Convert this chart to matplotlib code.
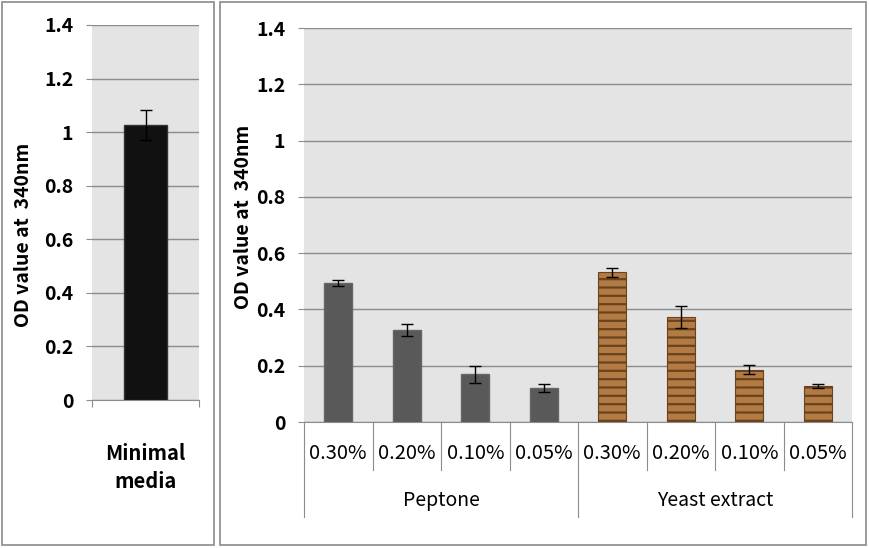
import matplotlib
matplotlib.use('Agg')
from matplotlib import pyplot as plt
from matplotlib.patches import Rectangle

plt.rcParams['font.family'] = ['Noto Sans CJK KR', 'DejaVu Sans']
plt.rcParams['hatch.color'] = '#6a421d'
plt.rcParams['hatch.linewidth'] = 1.6

# data
minimal_label = 'Minimal\nmedia'
minimal_value = 1.028
minimal_err = 0.056

concentrations = ['0.30%', '0.20%', '0.10%', '0.05%']
groups = ['Peptone', 'Yeast extract']
peptone_values = [0.493, 0.327, 0.170, 0.121]
peptone_err = [0.010, 0.023, 0.030, 0.013]
yeast_values = [0.532, 0.373, 0.185, 0.128]
yeast_err = [0.015, 0.040, 0.016, 0.007]

yticks = [0, 0.2, 0.4, 0.6, 0.8, 1, 1.2, 1.4]
ytick_labels = ['0', '0.2', '0.4', '0.6', '0.8', '1', '1.2', '1.4']

BG = '#e4e4e4'
GRID = '#8c8c8c'


def style_axes(ax):
    ax.set_facecolor(BG)
    ax.set_ylim(0, 1.4)
    ax.set_yticks(yticks)
    ax.set_yticklabels(ytick_labels, fontsize=14, fontweight='bold')
    ax.yaxis.grid(True, color=GRID, lw=1)
    ax.set_axisbelow(True)
    for s in ['left', 'right', 'top']:
        ax.spines[s].set_visible(False)
    ax.spines['bottom'].set_color(GRID)
    ax.tick_params(axis='y', length=4.5, color=GRID, pad=9)
    ax.set_ylabel('OD value at  340nm', fontsize=14, fontweight='bold')


fig = plt.figure(figsize=(8.69, 5.48), dpi=100)

# panel frames
fig.patches.append(Rectangle((2 / 869, 3 / 548), 212 / 869, 543 / 548,
                             transform=fig.transFigure, fill=False,
                             edgecolor='#8a8a8a', lw=1.2))
fig.patches.append(Rectangle((220 / 869, 3 / 548), 646 / 869, 543 / 548,
                             transform=fig.transFigure, fill=False,
                             edgecolor='#8a8a8a', lw=1.2))

# left panel
ax1 = fig.add_axes([92 / 869, 148 / 548, 107 / 869, 375 / 548])
style_axes(ax1)
ax1.bar([0.5], [minimal_value], width=0.4, color='#111111',
        edgecolor='#333333', zorder=3)
ax1.errorbar([0.5], [minimal_value], yerr=[minimal_err], fmt='none',
             ecolor='black', elinewidth=1, capsize=4, capthick=1, zorder=4)
ax1.set_xlim(0, 1)
ax1.set_xticks([0, 1])
ax1.set_xticklabels([])
ax1.tick_params(axis='x', length=5, color=GRID)
ax1.text(0.5, -0.18, minimal_label, transform=ax1.transAxes, ha='center',
         va='center', fontsize=14.5, fontweight='bold', linespacing=1.45)
ax1.yaxis.set_label_coords(-0.55, 0.44)

# right panel
ax2 = fig.add_axes([304 / 869, 126 / 548, 548 / 869, 394 / 548])
style_axes(ax2)
n = len(concentrations)
xp = [i + 0.5 for i in range(n)]
xy = [n + i + 0.5 for i in range(n)]
ax2.bar(xp, peptone_values, width=0.41, color='#595959',
        edgecolor='#666666', zorder=3)
ax2.errorbar(xp, peptone_values, yerr=peptone_err, fmt='none',
             ecolor='black', elinewidth=1, capsize=4, capthick=1, zorder=4)
ax2.bar(xy, yeast_values, width=0.41, color='#b27b44',
        edgecolor='#6a421d', hatch='--', lw=0.8, zorder=3)
ax2.errorbar(xy, yeast_values, yerr=yeast_err, fmt='none',
             ecolor='black', elinewidth=1, capsize=4, capthick=1, zorder=4)
ax2.set_xlim(0, 2 * n)
ax2.set_xticks([])
ax2.yaxis.set_label_coords(-0.093, 0.52)

tr = ax2.get_xaxis_transform()
for i in range(2 * n + 1):
    bottom = -0.241 if i % n == 0 else -0.122
    ax2.plot([i, i], [0, bottom], transform=tr, color='#8c8c8c', lw=0.8,
             clip_on=False)
for i in range(2 * n):
    ax2.text(i + 0.5, -0.079, concentrations[i % n], transform=tr,
             ha='center', va='center', fontsize=14.5)
for g, name in enumerate(groups):
    ax2.text(g * n + n / 2, -0.198, name, transform=tr, ha='center',
             va='center', fontsize=14)

fig.savefig('out.png', dpi=100)
